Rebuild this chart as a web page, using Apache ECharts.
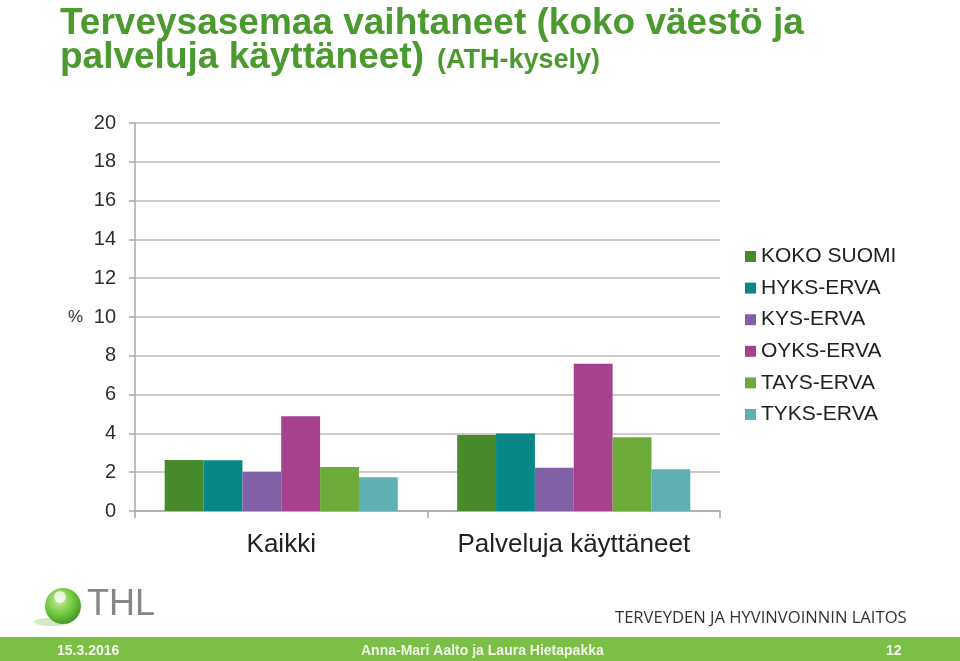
<!DOCTYPE html>
<html><head><meta charset="utf-8">
<script src="https://cdn.jsdelivr.net/npm/echarts@6/dist/echarts.min.js"></script>
<style>html,body{margin:0;padding:0;background:#fff}#c{width:960px;height:661px}</style>
</head><body><div id="c"></div>
<script>
const categories = ['Kaikki', 'Palveluja käyttäneet'];
const seriesNames = ['KOKO SUOMI', 'HYKS-ERVA', 'KYS-ERVA', 'OYKS-ERVA', 'TAYS-ERVA', 'TYKS-ERVA'];
const kokoSuomi = [2.63, 3.92];
const hyks = [2.61, 4.0];
const kys = [2.01, 2.23];
const oyks = [4.88, 7.59];
const tays = [2.27, 3.8];
const tyks = [1.74, 2.15];
const yTicks = [0, 2, 4, 6, 8, 10, 12, 14, 16, 18, 20];
const colors = ['#478a2a', '#078787', '#8061a5', '#a6418f', '#6caa3a', '#5fb0b2'];
const values = [kokoSuomi, hyks, kys, oyks, tays, tyks];

const chart = echarts.init(document.getElementById('c'));
const font = 'Liberation Sans, Arial, sans-serif';
const titleGreen = '#4b9a2f';
chart.setOption({
  animation: false,
  color: colors,
  textStyle: {fontFamily: font},
  grid: {left: 135, right: 240, top: 123, bottom: 150},
  legend: {
    orient: 'vertical', left: 745, top: 246, padding: 0,
    itemWidth: 11, itemHeight: 11, itemGap: 10.6,
    icon: 'rect',
    textStyle: {fontSize: 21, lineHeight: 21, color: '#222', fontFamily: font},
    data: seriesNames
  },
  xAxis: {
    type: 'category', data: categories,
    axisLine: {lineStyle: {color: '#a8a8a8', width: 1.5}},
    axisTick: {show: true, length: 7, lineStyle: {color: '#a8a8a8', width: 1.5}},
    axisLabel: {fontSize: 26, color: '#222', margin: 21, interval: 0, fontFamily: font}
  },
  yAxis: {
    type: 'value', min: yTicks[0], max: yTicks[yTicks.length - 1], interval: 2,
    axisLine: {show: true, lineStyle: {color: '#a8a8a8', width: 1.5}},
    axisTick: {show: true, length: 6, lineStyle: {color: '#a8a8a8', width: 1.5}},
    splitLine: {lineStyle: {color: '#bdbdbd', width: 1.5}},
    axisLabel: {fontSize: 20, color: '#2e2e2e', margin: 19, fontFamily: font}
  },
  series: seriesNames.map((n, i) => ({
    name: n, type: 'bar', data: values[i], barGap: '0%', barCategoryGap: '20.3%'
  })),
  graphic: [
    {type: 'text', left: 60, top: 5, style: {text: 'Terveysasemaa vaihtaneet (koko väestö ja', font: 'bold 37px Liberation Sans, Arial', fill: titleGreen}},
    {type: 'text', left: 60, top: 39, style: {text: 'palveluja käyttäneet)', font: 'bold 37px Liberation Sans, Arial', fill: titleGreen}},
    {type: 'text', left: 437, top: 47, style: {text: '(ATH-kysely)', font: 'bold 27px Liberation Sans, Arial', fill: titleGreen}},
    {type: 'text', left: 68, top: 309, style: {text: '%', font: '17px Liberation Sans, Arial', fill: '#333'}},
    // footer
    {type: 'rect', shape: {x: 0, y: 637, width: 960, height: 24}, style: {fill: '#7bbf47'}},
    {type: 'text', left: 57, top: 644, style: {text: '15.3.2016', font: 'bold 14px Liberation Sans, Arial', fill: '#f3f6e6'}},
    {type: 'text', left: 361, top: 644, style: {text: 'Anna-Mari Aalto ja Laura Hietapakka', font: 'bold 14px Liberation Sans, Arial', fill: '#f3f6e6'}},
    {type: 'text', left: 886, top: 644, style: {text: '12', font: 'bold 14px Liberation Sans, Arial', fill: '#f3f6e6'}},
    {type: 'text', left: 615, top: 610, style: {text: 'TERVEYDEN JA HYVINVOINNIN LAITOS', font: '16.6px Open Sans, DejaVu Sans, Arial', fill: '#333'}},
    // logo
    {type: 'ellipse', shape: {cx: 52, cy: 622, rx: 18, ry: 4}, style: {fill: 'rgba(130,190,90,0.35)'}},
    {type: 'circle', shape: {cx: 63, cy: 606, r: 18}, style: {fill: {type: 'radial', x: 0.4, y: 0.35, r: 0.7, colorStops: [{offset: 0, color: '#c8ee9c'}, {offset: 0.6, color: '#6ac43a'}, {offset: 1, color: '#3d8f22'}]}}},
    {type: 'circle', shape: {cx: 60, cy: 597, r: 6}, style: {fill: 'rgba(255,255,255,0.75)'}},
    {type: 'text', left: 87, top: 587, style: {text: 'THL', font: '36px Liberation Sans Narrow, Liberation Sans, Arial', fill: '#858585'}}
  ]
});
</script></body></html>
